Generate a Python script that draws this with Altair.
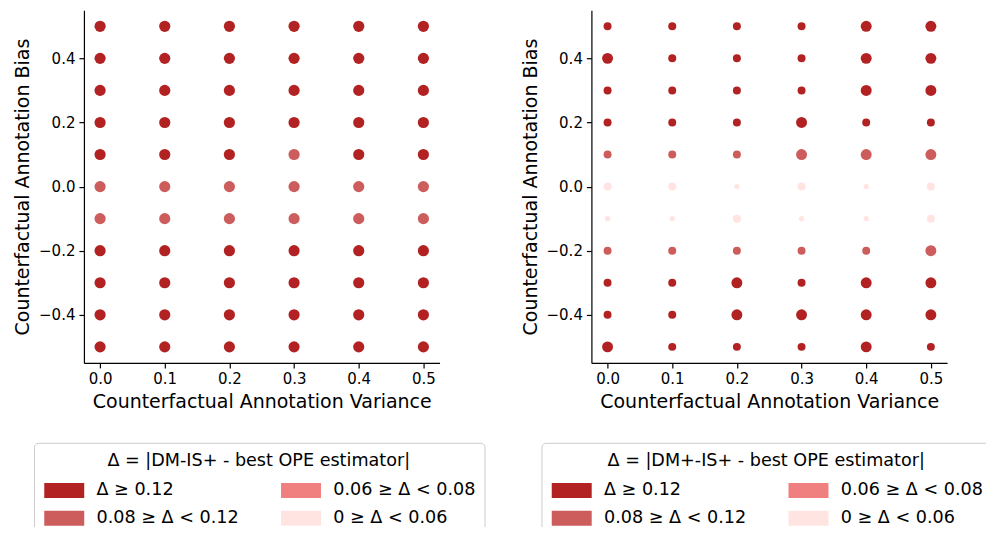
import altair as alt
import pandas as pd

x_vals = [0.0, 0.1, 0.2, 0.3, 0.4, 0.5]
y_vals = [0.5, 0.4, 0.3, 0.2, 0.1, 0.0, -0.1, -0.2, -0.3, -0.4, -0.5]

labels = ["Δ ≥ 0.12", "0.08 ≥ Δ < 0.12", "0.06 ≥ Δ < 0.08", "0 ≥ Δ < 0.06"]
colors = ["#b22222", "#cd5c5c", "#f08080", "#ffe4e1"]

# category index per cell, rows follow y_vals, columns follow x_vals
left_level = [
    [0, 0, 0, 0, 0, 0],
    [0, 0, 0, 0, 0, 0],
    [0, 0, 0, 0, 0, 0],
    [0, 0, 0, 0, 0, 0],
    [0, 0, 0, 1, 0, 0],
    [1, 1, 1, 1, 1, 1],
    [1, 1, 1, 1, 1, 1],
    [0, 0, 0, 0, 0, 0],
    [0, 0, 0, 0, 0, 0],
    [0, 0, 0, 0, 0, 0],
    [0, 0, 0, 0, 0, 0],
]
right_level = [
    [0, 0, 0, 0, 0, 0],
    [0, 0, 0, 0, 0, 0],
    [0, 0, 0, 0, 0, 0],
    [0, 0, 0, 0, 0, 0],
    [1, 1, 1, 1, 1, 1],
    [3, 3, 3, 3, 3, 3],
    [3, 3, 3, 3, 3, 3],
    [1, 1, 1, 1, 1, 1],
    [0, 0, 0, 0, 0, 0],
    [0, 0, 0, 0, 0, 0],
    [0, 0, 0, 0, 0, 0],
]
# marker magnitude class in right panel (1 small, 2 medium, 3 large)
right_mag = [
    [2, 2, 2, 2, 3, 3],
    [3, 2, 2, 2, 3, 3],
    [2, 2, 2, 2, 3, 3],
    [2, 2, 2, 3, 2, 2],
    [2, 2, 2, 3, 3, 3],
    [2, 2, 1, 2, 1, 2],
    [1, 1, 2, 1, 1, 2],
    [2, 2, 2, 2, 2, 3],
    [2, 2, 3, 2, 3, 3],
    [2, 2, 3, 3, 3, 3],
    [3, 2, 2, 2, 3, 2],
]

titles = ["Δ = |DM-IS+ - best OPE estimator|", "Δ = |DM+-IS+ - best OPE estimator|"]


def build(level, mag):
    rows = []
    for i, y in enumerate(y_vals):
        for j, x in enumerate(x_vals):
            rows.append({"x": x, "y": y, "cat": labels[level[i][j]],
                         "mag": mag[i][j] if mag else 3})
    return pd.DataFrame(rows)


def panel(df, title, sized):
    size_enc = (alt.Size("mag:Q", scale=alt.Scale(domain=[1, 2, 3], range=[28, 64, 120]), legend=None)
                if sized else alt.value(125))
    return alt.Chart(df).mark_circle(opacity=1, strokeWidth=0).encode(
        x=alt.X("x:Q", scale=alt.Scale(domain=[-0.025, 0.525], nice=False, zero=False),
                axis=alt.Axis(title="Counterfactual Annotation Variance", values=x_vals, format=".1f")),
        y=alt.Y("y:Q", scale=alt.Scale(domain=[-0.55, 0.55], nice=False, zero=False),
                axis=alt.Axis(title="Counterfactual Annotation Bias",
                              values=[-0.4, -0.2, 0.0, 0.2, 0.4], format=".1f")),
        color=alt.Color("cat:N", scale=alt.Scale(domain=labels, range=colors),
                        legend=alt.Legend(
                            title=title, orient="none", legendX=-50, legendY=433,
                            columns=2, columnPadding=41, rowPadding=9,
                            symbolType="M-2.667,-1H2.667V1H-2.667Z", symbolSize=225,
                            symbolOffset=12.5,
                            symbolStrokeWidth=0, symbolOpacity=1,
                            labelOffset=23.5, labelFontSize=17.6, titleFontSize=17.6,
                            titleFontWeight="normal", titleAnchor="middle", titlePadding=12,
                            labelLimit=400, titleLimit=500,
                            padding=9, fillColor="white", strokeColor="#cccccc",
                            cornerRadius=4)),
        size=size_enc,
    ).properties(width=356, height=353)


left = panel(build(left_level, None), titles[0], False)
right = panel(build(right_level, right_mag), titles[1], True)

chart = alt.hconcat(left, right, spacing=35).resolve_scale(
    color="independent", size="independent"
).resolve_legend(color="independent").configure_view(stroke=None).configure_axis(
    grid=False, domainColor="black", tickColor="black", labelColor="black", titleColor="black",
    labelFont="DejaVu Sans", titleFont="DejaVu Sans", labelFontSize=15, titleFontSize=19,
    titleFontWeight="normal", tickSize=5, labelPadding=4, titlePadding=6, domainWidth=1.2,
    tickWidth=1.2
).configure_legend(labelFont="DejaVu Sans", titleFont="DejaVu Sans",
                   labelColor="black", titleColor="black").properties(
    padding={"left": 5, "top": 2, "right": -7, "bottom": -10}
)

chart.save("out.html", embed_options={"renderer": "svg", "actions": False})
